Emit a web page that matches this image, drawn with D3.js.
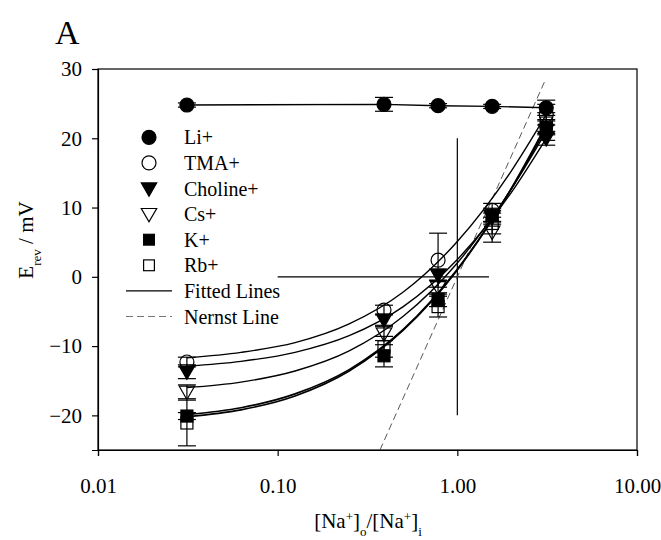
<!DOCTYPE html>
<html><head><meta charset="utf-8">
<script src="https://cdn.jsdelivr.net/npm/d3@7/dist/d3.min.js"></script>
<style>body{margin:0;background:#fff;} text{font-family:"Liberation Serif","Times New Roman",serif;fill:#000;}</style>
</head><body><svg id="c" width="661" height="540"></svg>
<script>
// ---- data ----
const xVals = [0.03125, 0.390625, 0.78125, 1.5625, 3.125];
const liY    = [24.8, 24.9, 24.7, 24.6, 24.4];
const liErr  = [0.3, 1.0, 0.3, 0.3, 1.1];
const tmaY   = [-12.3, -4.8, 2.4, 9.6, 23.4];
const tmaErr = [0.7, 0.7, 3.9, 1.0, 1.5];
const choY   = [-13.7, -6.2, 0.3, 8.6, 20.0];
const choErr = [1.0, 0.8, 0.8, 1.0, 1.0];
const csY    = [-16.6, -8.2, -1.5, 6.5, 21.2];
const csErr  = [1.0, 1.0, 1.0, 1.5, 1.5];
const kY     = [-20.1, -11.4, -3.3, 8.9, 21.5];
const kErr   = [0.5, 1.6, 1.0, 1.0, 1.0];
const rbY    = [-21.1, -10.1, -4.3, 7.7, 22.2];
const rbErr  = [3.3, 1.5, 1.5, 1.5, 1.5];
// fitted lines
const fitX   = [0.03125, 0.0625, 0.125, 0.25, 0.5, 1, 2, 3.125];
const fitTma = [-11.7, -10.9, -9.5, -6.8, -2.2, 5.1, 15.3, 23.4];
const fitCho = [-12.9, -12.2, -10.9, -8.5, -4.3, 2.5, 12.2, 20.0];
const fitCs  = [-16.0, -15.2, -13.6, -10.7, -5.7, 2.0, 12.7, 21.0];
const fitK   = [-19.9, -18.9, -16.9, -13.4, -7.6, 1.1, 12.7, 21.5];
const fitRb  = [-20.2, -19.2, -17.2, -13.6, -7.7, 1.0, 12.8, 21.9];
const nernstX = [0.371, 3.05];
const nernstY = [-25, 28.1];
const crossH = {x: [0.1, 1.5], y: [0, 0]};
const crossV = {x: [1, 1], y: [20, -20]};
const xTicks = [0.01, 0.1, 1, 10];
const yTicks = [-20, -10, 0, 10, 20, 30];
const legendLabels = ["Li+", "TMA+", "Choline+", "Cs+", "K+", "Rb+", "Fitted Lines", "Nernst Line"];

// ---- chart ----
const svg = d3.select("#c");
const x = d3.scaleLog().domain([0.01, 10]).range([98, 637]);
const y = d3.scaleLinear().domain([-25, 30]).range([450, 69]);

// frame
svg.append("rect").attr("x", 98).attr("y", 69).attr("width", 637 - 98).attr("height", 450 - 69)
  .attr("fill", "none").attr("stroke", "#000").attr("stroke-width", 1.2);

const xAxis = svg.append("g").attr("transform", "translate(0,450)")
  .call(d3.axisBottom(x).tickValues(xTicks).tickFormat(d3.format(".2f")).tickSize(6).tickPadding(22));
const yAxis = svg.append("g").attr("transform", "translate(98,0)")
  .call(d3.axisLeft(y).tickValues(yTicks).tickSize(6).tickPadding(10));
[xAxis, yAxis].forEach(g => {
  g.select(".domain").attr("stroke-width", 1.2);
  g.selectAll(".tick line").attr("stroke-width", 1.2);
  g.selectAll("text").attr("font-size", 21).attr("font-family", "Liberation Serif");
});

const line = d3.line().x(d => x(d[0])).y(d => y(d[1]));
const smooth = d3.line().x(d => x(d[0])).y(d => y(d[1])).curve(d3.curveMonotoneX);

// cross lines
svg.append("path").attr("d", line(d3.zip(crossH.x, crossH.y))).attr("stroke", "#000").attr("stroke-width", 1.2).attr("fill", "none");
svg.append("path").attr("d", line(d3.zip(crossV.x, crossV.y))).attr("stroke", "#000").attr("stroke-width", 1.2).attr("fill", "none");
// nernst
svg.append("path").attr("d", line(d3.zip(nernstX, nernstY))).attr("stroke", "#444").attr("stroke-width", 0.9)
  .attr("stroke-dasharray", "7,4").attr("fill", "none");
// fitted lines
[fitTma, fitCho, fitCs, fitK, fitRb].forEach((f, i) => {
  svg.append("path").attr("d", smooth(d3.zip(fitX, f))).attr("stroke", "#000").attr("stroke-width", i >= 3 ? 1.7 : 1.4).attr("fill", "none");
});
// Li line
svg.append("path").attr("d", line(d3.zip(xVals, liY))).attr("stroke", "#000").attr("stroke-width", 1.4).attr("fill", "none");

const series = [
  {ys: liY, err: liErr, shape: "circle", fill: true},
  {ys: tmaY, err: tmaErr, shape: "circle", fill: false},
  {ys: choY, err: choErr, shape: "tri", fill: true},
  {ys: csY, err: csErr, shape: "tri", fill: false},
  {ys: kY, err: kErr, shape: "square", fill: true},
  {ys: rbY, err: rbErr, shape: "square", fill: false}
];

function marker(g, shape, fill, cx, cy, s) {
  const st = fill ? "#000" : "none";
  if (shape === "circle") {
    g.append("circle").attr("cx", cx).attr("cy", cy).attr("r", 7 * s).attr("fill", st).attr("stroke", "#000").attr("stroke-width", 1.2);
  } else if (shape === "tri") {
    const h = 7 * s;
    g.append("path").attr("d", `M${cx - h * 1.1},${cy - h * 0.8}L${cx + h * 1.1},${cy - h * 0.8}L${cx},${cy + h * 1.1}Z`)
      .attr("fill", st).attr("stroke", "#000").attr("stroke-width", 1.2);
  } else {
    const h = 6 * s;
    g.append("rect").attr("x", cx - h).attr("y", cy - h).attr("width", 2 * h).attr("height", 2 * h)
      .attr("fill", st).attr("stroke", "#000").attr("stroke-width", 1.2);
  }
}

const gm = svg.append("g");
series.forEach(sr => {
  xVals.forEach((xv, i) => {
    marker(gm, sr.shape, sr.fill, x(xv), y(sr.ys[i]), 1);
  });
});
// error bars
const ge = svg.append("g").attr("stroke", "#000").attr("stroke-width", 1.2);
series.forEach(sr => {
  xVals.forEach((xv, i) => {
    const cx = x(xv), y1 = y(sr.ys[i] + sr.err[i]), y2 = y(sr.ys[i] - sr.err[i]);
    ge.append("line").attr("x1", cx).attr("x2", cx).attr("y1", y1).attr("y2", y2);
    ge.append("line").attr("x1", cx - 9).attr("x2", cx + 9).attr("y1", y1).attr("y2", y1);
    ge.append("line").attr("x1", cx - 9).attr("x2", cx + 9).attr("y1", y2).attr("y2", y2);
  });
});

// legend
const lg = svg.append("g");
legendLabels.forEach((lab, i) => {
  const ly = 137.3 + i * 25.6;
  if (i < 6) {
    marker(lg, series[i].shape, series[i].fill, 149, ly, i === 4 || i === 5 ? 0.9 : 1);
  } else {
    lg.append("line").attr("x1", 126).attr("x2", 172).attr("y1", ly).attr("y2", ly)
      .attr("stroke", i === 6 ? "#000" : "#666").attr("stroke-width", i === 6 ? 1.2 : 0.9)
      .attr("stroke-dasharray", i === 6 ? null : "7,4");
  }
  lg.append("text").attr("x", 184).attr("y", ly + 7).attr("font-size", 20).text(lab);
});

// titles
svg.append("text").attr("x", 55).attr("y", 44).attr("font-size", 34).text("A");
const xl = svg.append("text").attr("x", 368).attr("y", 528).attr("text-anchor", "middle").attr("font-size", 21);
xl.append("tspan").text("[Na");
xl.append("tspan").attr("baseline-shift", "super").attr("font-size", 13).text("+");
xl.append("tspan").text("]");
xl.append("tspan").attr("baseline-shift", "sub").attr("font-size", 13).text("o");
xl.append("tspan").text("/[Na");
xl.append("tspan").attr("baseline-shift", "super").attr("font-size", 13).text("+");
xl.append("tspan").text("]");
xl.append("tspan").attr("baseline-shift", "sub").attr("font-size", 13).text("i");

const yl = svg.append("text").attr("transform", "translate(33,240) rotate(-90)").attr("text-anchor", "middle").attr("font-size", 21);
yl.append("tspan").text("E");
yl.append("tspan").attr("baseline-shift", "sub").attr("font-size", 13).text("rev");
yl.append("tspan").text(" / mV");
</script></body></html>
